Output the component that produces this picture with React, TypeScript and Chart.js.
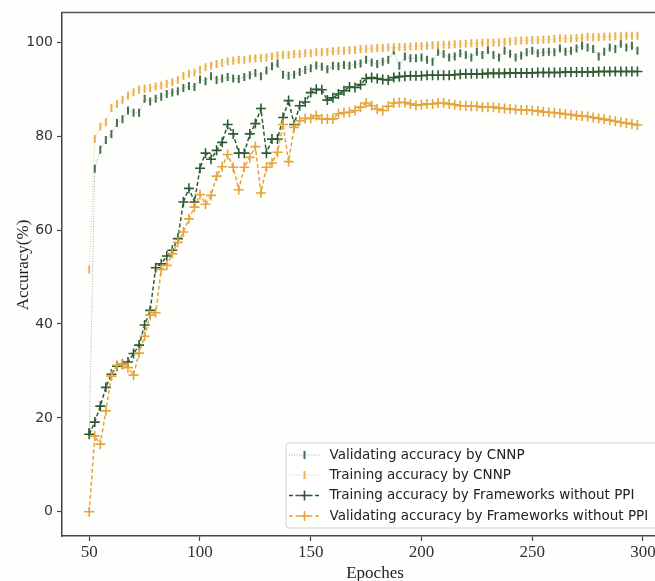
import React, { useEffect, useRef } from "react";
import { Chart, registerables } from "chart.js";

Chart.register(...registerables);

const EPOCHS = [
  50, 52.5, 55, 57.5, 60, 62.5, 65, 67.5, 70, 72.5,
  75, 77.5, 80, 82.5, 85, 87.5, 90, 92.5, 95, 97.5,
  100, 102.5, 105, 107.5, 110, 112.5, 115, 117.5, 120, 122.5,
  125, 127.5, 130, 132.5, 135, 137.5, 140, 142.5, 145, 147.5,
  150, 152.5, 155, 157.5, 160, 162.5, 165, 167.5, 170, 172.5,
  175, 177.5, 180, 182.5, 185, 187.5, 190, 192.5, 195, 197.5,
  200, 202.5, 205, 207.5, 210, 212.5, 215, 217.5, 220, 222.5,
  225, 227.5, 230, 232.5, 235, 237.5, 240, 242.5, 245, 247.5,
  250, 252.5, 255, 257.5, 260, 262.5, 265, 267.5, 270, 272.5,
  275, 277.5, 280, 282.5, 285, 287.5, 290, 292.5, 295, 297.5,
];

const VAL_CNNP = [
  17.0, 73.1, 77.1, 79.2, 80.5, 82.8, 83.6, 85.5, 85.0, 85.0,
  88.0, 87.4, 88.0, 88.4, 89.0, 89.3, 89.6, 90.3, 90.7, 90.5,
  92.1, 91.7, 92.8, 92.0, 92.3, 92.6, 92.3, 92.2, 92.6, 93.0,
  93.5, 92.8, 94.0, 94.9, 95.5, 93.1, 92.9, 93.1, 93.7, 94.1,
  94.5, 95.1, 94.8, 94.3, 95.0, 94.9, 95.2, 95.0, 95.3, 95.5,
  96.3, 95.7, 95.4, 95.9, 96.3, 98.2, 95.0, 97.0, 96.6, 96.6,
  96.8, 96.3, 95.9, 98.0, 97.5, 96.8, 97.0, 97.7, 97.3, 96.8,
  98.0, 97.3, 98.4, 97.3, 96.8, 98.2, 97.6, 96.8, 97.2, 97.9,
  98.2, 97.7, 97.9, 98.0, 97.9, 98.7, 98.0, 98.2, 98.7, 99.3,
  98.9, 98.6, 97.0, 98.0, 98.9, 98.6, 99.7, 98.9, 99.3, 98.2,
];

const TRAIN_CNNP = [
  51.6, 79.4, 82.1, 83.0, 86.0, 86.9, 87.7, 88.7, 89.4, 89.9,
  90.1, 90.3, 90.6, 90.8, 91.2, 91.5, 92.0, 92.9, 93.3, 93.6,
  94.1, 94.7, 95.0, 95.4, 95.6, 96.0, 96.1, 96.3, 96.3, 96.5,
  96.6, 96.7, 96.8, 97.0, 97.2, 97.3, 97.3, 97.5, 97.5, 97.7,
  97.7, 97.9, 97.9, 98.0, 98.1, 98.2, 98.2, 98.4, 98.4, 98.6,
  98.6, 98.7, 98.8, 98.8, 98.9, 98.9, 99.0, 99.0, 99.1, 99.2,
  99.2, 99.3, 99.4, 99.4, 99.5, 99.5, 99.6, 99.7, 99.7, 99.8,
  99.8, 99.9, 99.9, 100.0, 100.0, 100.1, 100.2, 100.3, 100.4, 100.4,
  100.5, 100.5, 100.6, 100.6, 100.7, 100.9, 100.8, 100.8, 100.9, 101.0,
  101.2, 101.1, 101.1, 101.2, 101.2, 101.3, 101.3, 101.4, 101.4, 101.4,
];

const TRAIN_NOPPI = [
  16.5, 19.1, 22.5, 26.5, 29.3, 31.0, 31.4, 31.9, 33.7, 35.5,
  39.8, 42.9, 52.0, 52.8, 54.5, 55.7, 58.2, 66.0, 68.9, 66.0,
  73.2, 76.4, 75.1, 77.0, 78.7, 82.5, 80.5, 76.4, 76.4, 80.5,
  82.7, 85.9, 76.4, 79.4, 79.4, 84.0, 87.6, 82.5, 86.5, 87.3,
  89.3, 90.0, 89.9, 87.7, 88.2, 89.0, 89.7, 90.5, 90.4, 91.0,
  92.3, 92.5, 92.3, 92.1, 92.0, 92.5, 92.7, 92.8, 92.9, 92.9,
  92.9, 93.0, 93.0, 93.0, 93.0, 93.0, 93.1, 93.2, 93.3, 93.3,
  93.3, 93.3, 93.4, 93.4, 93.4, 93.4, 93.5, 93.5, 93.5, 93.5,
  93.5, 93.6, 93.6, 93.6, 93.6, 93.6, 93.7, 93.7, 93.7, 93.7,
  93.7, 93.7, 93.8, 93.8, 93.8, 93.8, 93.8, 93.8, 93.8, 93.8,
];

const VAL_NOPPI = [
  0.0, 16.1, 14.4, 21.5, 28.9, 31.2, 31.4, 30.7, 29.1, 33.8,
  37.4, 41.9, 42.4, 51.6, 52.5, 55.0, 57.4, 59.6, 62.4, 64.9,
  67.6, 65.5, 67.4, 71.5, 73.5, 76.1, 73.4, 68.6, 73.4, 75.5,
  77.8, 67.9, 73.4, 74.3, 76.6, 82.5, 74.6, 81.9, 83.3, 83.8,
  83.8, 84.4, 83.7, 83.7, 83.7, 84.8, 85.0, 85.1, 85.5, 86.2,
  87.1, 86.5, 85.8, 85.5, 86.4, 87.1, 87.2, 87.2, 86.9, 86.6,
  86.7, 86.9, 86.9, 87.1, 87.1, 86.9, 86.7, 86.5, 86.5, 86.4,
  86.4, 86.2, 86.2, 86.2, 86.0, 85.9, 85.8, 85.7, 85.6, 85.6,
  85.5, 85.4, 85.2, 85.1, 85.0, 84.9, 84.7, 84.6, 84.4, 84.3,
  84.2, 84.0, 83.8, 83.6, 83.4, 83.2, 83.0, 82.8, 82.6, 82.4,
];

const SERIES_LABELS = [
  "Validating accuracy by CNNP",
  "Training accuracy by CNNP",
  "Training accuracy by Frameworks without PPI",
  "Validating accuracy by Frameworks without PPI",
];

const X_TICKS = [50, 100, 150, 200, 250, 300];
const Y_TICKS = [0, 20, 40, 60, 80, 100];
const X_TITLE = "Epoches";
const Y_TITLE = "Accuracy(%)";

const GREEN_LIGHT = "#41704b";
const GREEN_DARK = "#2c5a33";
const ORANGE_LIGHT = "#ebb04f";
const ORANGE_DARK = "#e5a43a";

const SERIF = '"Liberation Serif", "DejaVu Serif", serif';
const SANS = '"DejaVu Sans", "Liberation Sans", sans-serif';

function toPoints(values: number[]) {
  return EPOCHS.map((x, i) => ({ x, y: values[i] }));
}

const decorPlugin = {
  id: "decor",
  beforeDraw(chart: any) {
    const { ctx, width, height } = chart;
    ctx.save();
    ctx.fillStyle = "#fefefd";
    ctx.fillRect(0, 0, width, height);
    ctx.restore();
  },
  afterDraw(chart: any) {
    const { ctx, chartArea: ca } = chart;
    ctx.save();
    // top spine
    ctx.strokeStyle = "#555";
    ctx.lineWidth = 1.5;
    ctx.beginPath();
    ctx.moveTo(ca.left, ca.top);
    ctx.lineTo(ca.right, ca.top);
    ctx.stroke();

    // axis titles
    ctx.fillStyle = "#222";
    ctx.font = `17px ${SERIF}`;
    ctx.textAlign = "center";
    ctx.textBaseline = "middle";
    ctx.fillText(X_TITLE, 375, 574);
    ctx.save();
    ctx.translate(24, 265);
    ctx.rotate(-Math.PI / 2);
    ctx.fillText(Y_TITLE, 0, 0);
    ctx.restore();

    // legend
    const lx = 286, ly = 443, lw = 420, lh = 85;
    ctx.beginPath();
    if (ctx.roundRect) ctx.roundRect(lx, ly, lw, lh, 3);
    else ctx.rect(lx, ly, lw, lh);
    ctx.fillStyle = "rgba(255,255,255,0.85)";
    ctx.fill();
    ctx.strokeStyle = "#d2d2d2";
    ctx.lineWidth = 1;
    ctx.stroke();

    const rows = [455, 475, 495.5, 516];
    chart.data.datasets.forEach((d: any, i: number) => {
      const y = rows[i];
      ctx.save();
      ctx.setLineDash(d.borderDash || []);
      ctx.strokeStyle = d.borderColor;
      ctx.lineWidth = d.borderWidth;
      ctx.beginPath();
      ctx.moveTo(289, y);
      ctx.lineTo(320, y);
      ctx.stroke();
      ctx.setLineDash([]);
      ctx.strokeStyle = d.pointBorderColor;
      ctx.lineWidth = d.pointBorderWidth;
      const r = d.pointRadius;
      const cx = 304.5;
      ctx.beginPath();
      if (d.pointStyle === "cross") {
        ctx.moveTo(cx - r, y);
        ctx.lineTo(cx + r, y);
        ctx.moveTo(cx, y - r);
        ctx.lineTo(cx, y + r);
      } else {
        ctx.moveTo(cx, y - r);
        ctx.lineTo(cx, y + r);
      }
      ctx.stroke();
      ctx.restore();
      ctx.fillStyle = "#222";
      ctx.font = `13.5px ${SANS}`;
      ctx.textAlign = "left";
      ctx.textBaseline = "middle";
      ctx.fillText(d.label, 329.5, y);
    });
    ctx.restore();
  },
};

export default function App() {
  const canvasRef = useRef<HTMLCanvasElement | null>(null);

  useEffect(() => {
    const canvas = canvasRef.current;
    if (!canvas) return;
    const chart = new Chart(canvas, {
      type: "line",
      data: {
        datasets: [
          {
            label: SERIES_LABELS[0],
            data: toPoints(VAL_CNNP),
            borderColor: "rgba(120,140,125,0.75)",
            borderWidth: 0.9,
            borderDash: [1, 1.5],
            pointStyle: "line",
            rotation: 90,
            pointRadius: 4,
            pointBorderWidth: 2,
            pointBorderColor: GREEN_LIGHT,
            pointBackgroundColor: GREEN_LIGHT,
            fill: false,
            order: 4,
          } as any,
          {
            label: SERIES_LABELS[1],
            data: toPoints(TRAIN_CNNP),
            borderColor: "rgba(225,185,120,0.8)",
            borderWidth: 0.9,
            borderDash: [1, 1.5],
            pointStyle: "line",
            rotation: 90,
            pointRadius: 4,
            pointBorderWidth: 2,
            pointBorderColor: ORANGE_LIGHT,
            pointBackgroundColor: ORANGE_LIGHT,
            fill: false,
            order: 3,
          } as any,
          {
            label: SERIES_LABELS[2],
            data: toPoints(TRAIN_NOPPI),
            borderColor: GREEN_DARK,
            borderWidth: 1.5,
            borderDash: [4, 2.5],
            pointStyle: "cross",
            pointRadius: 5,
            pointBorderWidth: 1.6,
            pointBorderColor: GREEN_DARK,
            pointBackgroundColor: GREEN_DARK,
            fill: false,
            order: 2,
          } as any,
          {
            label: SERIES_LABELS[3],
            data: toPoints(VAL_NOPPI),
            borderColor: ORANGE_DARK,
            borderWidth: 1.5,
            borderDash: [4, 2.5],
            pointStyle: "cross",
            pointRadius: 5,
            pointBorderWidth: 1.6,
            pointBorderColor: ORANGE_DARK,
            pointBackgroundColor: ORANGE_DARK,
            fill: false,
            order: 1,
          } as any,
        ],
      },
      options: {
        responsive: false,
        animation: false,
        devicePixelRatio: 1,
        layout: { padding: { top: 12, left: 0, right: 0, bottom: 0 } },
        plugins: {
          legend: { display: false },
          tooltip: { enabled: false },
        },
        scales: {
          x: {
            type: "linear",
            min: 37.7,
            max: 305.6,
            afterBuildTicks: (scale: any) => {
              scale.ticks = X_TICKS.map((v) => ({ value: v }));
            },
            afterFit: (scale: any) => {
              scale.height = 45;
            },
            grid: {
              drawOnChartArea: false,
              drawTicks: true,
              tickLength: 5,
              tickColor: "#444",
              tickWidth: 1.2,
            },
            border: { display: true, color: "#444", width: 1.5 },
            ticks: {
              autoSkip: false,
              maxRotation: 0,
              padding: 1,
              color: "#333",
              font: { family: SERIF, size: 17 },
            },
            title: { display: false },
          },
          y: {
            type: "linear",
            min: -5.17,
            max: 106.39,
            afterBuildTicks: (scale: any) => {
              scale.ticks = Y_TICKS.map((v) => ({ value: v }));
            },
            afterFit: (scale: any) => {
              scale.width = 62;
            },
            grid: {
              drawOnChartArea: false,
              drawTicks: true,
              tickLength: 5,
              tickColor: "#444",
              tickWidth: 1.2,
            },
            border: { display: true, color: "#444", width: 1.5 },
            ticks: {
              padding: 4,
              color: "#333",
              font: { family: SANS, size: 14 },
            },
            title: { display: false },
          },
        },
      } as any,
      plugins: [decorPlugin],
    });
    return () => chart.destroy();
  }, []);

  return (
    <div
      style={{
        position: "fixed",
        left: 0,
        top: 0,
        width: 655,
        height: 581,
        overflow: "hidden",
        background: "#fefefd",
      }}
    >
      <canvas ref={canvasRef} width={662} height={581} style={{ display: "block" }} />
    </div>
  );
}
